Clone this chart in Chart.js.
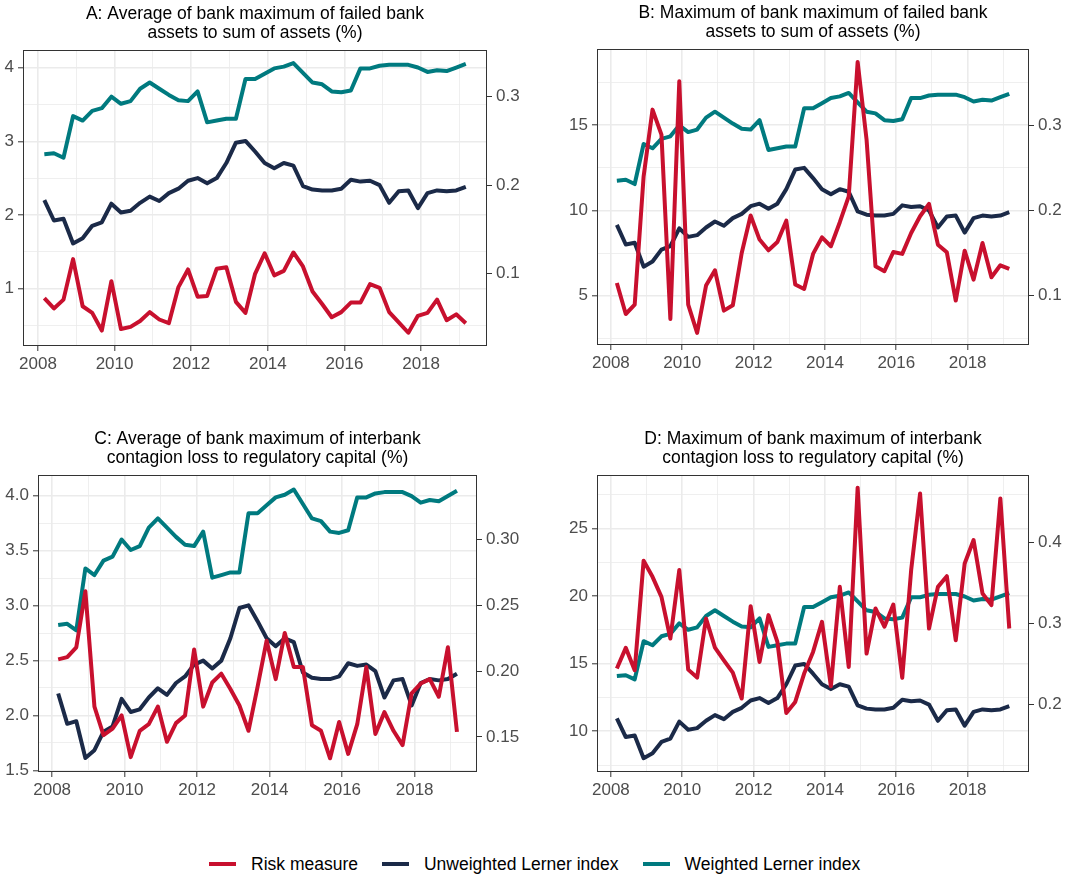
<!DOCTYPE html>
<html lang="en">
<head>
<meta charset="UTF-8">
<title>Risk measures and Lerner index</title>
<style>
  body { margin: 0; background: #fff; width: 1089px; height: 875px; position: relative; overflow: hidden; }
  canvas { position: absolute; }
  #legend {
    position: absolute; left: 209px; top: 852px; height: 24px;
    display: flex; align-items: center; white-space: nowrap;
    font-family: 'Liberation Sans', Arial, sans-serif; font-size: 17.5px; color: #000;
  }
  #legend .item { display: flex; align-items: center; margin-right: 24px; }
  #legend .item i { display: inline-block; width: 27px; height: 4px; margin-right: 15px; }
</style>
</head>
<body>
<canvas id="panelA" width="545" height="400" style="left:0px;top:0px"></canvas>
<canvas id="panelB" width="544" height="400" style="left:545px;top:0px"></canvas>
<canvas id="panelC" width="545" height="400" style="left:0px;top:425px"></canvas>
<canvas id="panelD" width="544" height="400" style="left:545px;top:425px"></canvas>

<div id="legend">
  <span class="item"><i style="background:#c8102e"></i>Risk measure</span>
  <span class="item"><i style="background:#1b2a48"></i>Unweighted Lerner index</span>
  <span class="item"><i style="background:#007a7f"></i>Weighted Lerner index</span>
</div>

<script src="https://cdn.jsdelivr.net/npm/chart.js"></script>
<script>
// quarterly observations
const quarterDates = [
  '2008-03', '2008-06', '2008-09', '2008-12',
  '2009-03', '2009-06', '2009-09', '2009-12',
  '2010-03', '2010-06', '2010-09', '2010-12',
  '2011-03', '2011-06', '2011-09', '2011-12',
  '2012-03', '2012-06', '2012-09', '2012-12',
  '2013-03', '2013-06', '2013-09', '2013-12',
  '2014-03', '2014-06', '2014-09', '2014-12',
  '2015-03', '2015-06', '2015-09', '2015-12',
  '2016-03', '2016-06', '2016-09', '2016-12',
  '2017-03', '2017-06', '2017-09', '2017-12',
  '2018-03', '2018-06', '2018-09', '2018-12',
  '2019-03'
];

// Lerner indices (right axis, same in every panel)
const weightedLerner = [
  0.235, 0.236, 0.231, 0.278, 0.273, 0.284, 0.287, 0.300, 0.292, 0.295,
  0.309, 0.316, 0.309, 0.302, 0.296, 0.295, 0.306, 0.271, 0.273, 0.275,
  0.275, 0.320, 0.320, 0.326, 0.332, 0.334, 0.338, 0.327, 0.316, 0.314,
  0.306, 0.305, 0.307, 0.332, 0.332, 0.335, 0.336, 0.336, 0.336, 0.333,
  0.328, 0.330, 0.329, 0.333, 0.337
];
const unweightedLerner = [
  0.183, 0.160, 0.162, 0.134, 0.140, 0.154, 0.158, 0.179, 0.169, 0.171,
  0.180, 0.187, 0.182, 0.191, 0.196, 0.205, 0.208, 0.202, 0.208, 0.225,
  0.248, 0.250, 0.238, 0.225, 0.219, 0.225, 0.222, 0.199, 0.195, 0.194,
  0.194, 0.196, 0.206, 0.204, 0.205, 0.200, 0.180, 0.193, 0.194, 0.174,
  0.191, 0.194, 0.193, 0.194, 0.198
];

// risk measures (left axis)
const riskA = [
  0.87, 0.73, 0.85, 1.40, 0.76, 0.67, 0.43, 1.10, 0.45, 0.48,
  0.56, 0.68, 0.58, 0.53, 1.02, 1.26, 0.89, 0.90, 1.27, 1.29,
  0.82, 0.67, 1.20, 1.48, 1.18, 1.24, 1.49, 1.30, 0.96, 0.79,
  0.61, 0.68, 0.81, 0.81, 1.06, 1.01, 0.68, 0.54, 0.40, 0.63,
  0.67, 0.85, 0.57, 0.65, 0.53
];
const riskB = [
  5.74, 3.92, 4.47, 12.0, 15.92, 14.45, 3.63, 17.58, 4.47, 2.81,
  5.59, 6.49, 4.12, 4.43, 7.50, 9.70, 8.29, 7.66, 8.15, 9.40,
  5.65, 5.39, 7.45, 8.42, 7.90, 9.31, 10.83, 18.72, 14.16, 6.72,
  6.43, 7.56, 7.45, 8.68, 9.66, 10.38, 7.99, 7.54, 4.71, 7.64,
  5.94, 8.09, 6.08, 6.78, 6.57
];
const riskC = [
  2.51, 2.53, 2.62, 3.13, 2.08, 1.82, 1.88, 2.00, 1.62, 1.86,
  1.92, 2.08, 1.76, 1.93, 2.00, 2.60, 2.08, 2.30, 2.38, 2.24,
  2.09, 1.86, 2.26, 2.68, 2.33, 2.75, 2.44, 2.44, 1.91, 1.86,
  1.61, 1.94, 1.65, 1.92, 2.44, 1.83, 2.03, 1.86, 1.73, 2.20,
  2.29, 2.33, 2.17, 2.62, 1.85
];
const riskD = [
  14.64, 16.17, 14.51, 22.61, 21.42, 19.94, 16.86, 21.92, 14.56, 13.97,
  18.34, 16.19, 15.25, 14.34, 12.42, 19.25, 15.13, 18.59, 16.61, 11.36,
  12.17, 14.27, 15.87, 18.09, 13.33, 20.68, 14.76, 28.01, 15.75, 19.08,
  17.73, 19.37, 13.95, 21.92, 27.59, 17.60, 20.68, 21.47, 16.73, 22.41,
  24.14, 20.19, 19.33, 27.22, 17.60
];

// tick values (labelled ones are major, the rest are minor grid lines)
const yearTicks = [2008, 2009, 2010, 2011, 2012, 2013, 2014, 2015, 2016, 2017, 2018, 2019];
const yearLabels = [2008, 2010, 2012, 2014, 2016, 2018];

const leftTicksA = [0.5, 1, 1.5, 2, 2.5, 3, 3.5, 4];
const leftLabelsA = [1, 2, 3, 4];
const rightTicksA = [0.1, 0.2, 0.3];

const leftTicksB = [2.5, 5, 7.5, 10, 12.5, 15, 17.5];
const leftLabelsB = [5, 10, 15];
const rightTicksB = [0.1, 0.2, 0.3];

const leftTicksC = [1.5, 1.75, 2, 2.25, 2.5, 2.75, 3, 3.25, 3.5, 3.75, 4];
const leftLabelsC = [1.5, 2, 2.5, 3, 3.5, 4];
const rightTicksC = [0.15, 0.2, 0.25, 0.3];

const leftTicksD = [7.5, 10, 12.5, 15, 17.5, 20, 22.5, 25, 27.5];
const leftLabelsD = [10, 15, 20, 25];
const rightTicksD = [0.2, 0.3, 0.4];

const RED = '#c8102e';
const NAVY = '#1b2a48';
const TEAL = '#007a7f';
const FONT = "'Liberation Sans', Arial, sans-serif";

function toYear(s) {
  const [y, m] = s.split('-').map(Number);
  return y + (m - 1) / 12;
}
function toPoints(values) {
  return values.map((v, i) => ({ x: toYear(quarterDates[i]), y: v }));
}
function hasValue(list, v) {
  return list.some(m => Math.abs(m - v) < 1e-9);
}
function setTicks(values) {
  return scale => { scale.ticks = values.map(v => ({ value: v })); };
}

// ggplot-like panel border drawn over the lines
const panelBorder = {
  id: 'panelBorder',
  afterDatasetsDraw(chart) {
    const { ctx, chartArea: a } = chart;
    ctx.save();
    ctx.strokeStyle = '#333333';
    ctx.lineWidth = 1;
    ctx.strokeRect(Math.round(a.left) + 0.5, Math.round(a.top) + 0.5,
      Math.round(a.width) - 1, Math.round(a.height) - 1);
    ctx.restore();
  }
};

function line(label, values, color, axis) {
  return {
    label: label,
    data: toPoints(values),
    yAxisID: axis,
    borderColor: color,
    backgroundColor: color,
    borderWidth: 4,
    pointRadius: 0,
    tension: 0,
    borderJoinStyle: 'round'
  };
}

function drawPanel(p) {
  const tickFont = { family: FONT, size: 17 };
  const config = {
    type: 'line',
    data: {
      datasets: [
        line('Risk measure', p.risk, RED, 'y'),
        line('Unweighted Lerner index', unweightedLerner, NAVY, 'y1'),
        line('Weighted Lerner index', weightedLerner, TEAL, 'y1')
      ]
    },
    options: {
      responsive: false,
      animation: false,
      events: [],
      layout: { padding: 0 },
      plugins: {
        legend: { display: false },
        tooltip: { enabled: false },
        title: {
          display: true,
          text: p.title,
          color: '#000',
          fullSize: false,
          font: { family: FONT, size: 17.5, weight: 'normal', lineHeight: 1.08 },
          padding: { top: p.titleTop, bottom: 7.2 }
        }
      },
      scales: {
        x: {
          type: 'linear',
          min: 2007.61,
          max: 2019.72,
          afterBuildTicks: setTicks(yearTicks),
          afterFit: s => { s.height = p.xHeight; },
          ticks: {
            autoSkip: false, maxRotation: 0, padding: 3,
            color: '#4d4d4d', font: tickFont,
            callback: v => hasValue(yearLabels, v) ? String(v) : ''
          },
          grid: {
            color: '#ebebeb',
            lineWidth: c => (c.tick && hasValue(yearLabels, c.tick.value)) ? 1.6 : 0.8,
            tickLength: 5,
            tickWidth: 1,
            tickColor: c => (c.tick && hasValue(yearLabels, c.tick.value)) ? '#333333' : 'rgba(0,0,0,0)'
          },
          border: { display: false }
        },
        y: {
          type: 'linear',
          position: 'left',
          min: p.left[0],
          max: p.left[1],
          afterBuildTicks: setTicks(p.leftTicks),
          afterFit: s => { s.width = p.leftW; },
          ticks: {
            padding: 4, color: '#4d4d4d', font: tickFont,
            callback: v => hasValue(p.leftLabels, v) ? v.toFixed(p.leftDigits) : ''
          },
          grid: {
            color: '#ebebeb',
            lineWidth: c => (c.tick && hasValue(p.leftLabels, c.tick.value)) ? 1.6 : 0.8,
            tickLength: 5,
            tickWidth: 1,
            tickColor: c => (c.tick && hasValue(p.leftLabels, c.tick.value)) ? '#333333' : 'rgba(0,0,0,0)'
          },
          border: { display: false }
        },
        y1: {
          type: 'linear',
          position: 'right',
          min: p.right[0],
          max: p.right[1],
          afterBuildTicks: setTicks(p.rightTicks),
          afterFit: s => { s.width = p.rightW; },
          ticks: {
            padding: 4, color: '#4d4d4d', font: tickFont,
            callback: v => v.toFixed(p.rightDigits)
          },
          grid: {
            drawOnChartArea: false,
            tickLength: 5,
            tickWidth: 1,
            tickColor: '#333333'
          },
          border: { display: false }
        }
      }
    },
    plugins: [panelBorder]
  };
  return new Chart(document.querySelector(p.canvas), config);
}

drawPanel({
  canvas: '#panelA',
  title: ['A: Average of bank maximum of failed bank', 'assets to sum of assets (%)'],
  risk: riskA,
  left: [0.22, 4.24], leftTicks: leftTicksA, leftLabels: leftLabelsA, leftDigits: 0,
  right: [0.0181, 0.3528], rightTicks: rightTicksA, rightDigits: 1,
  titleTop: 5, leftW: 23, rightW: 58, xHeight: 54
});
drawPanel({
  canvas: '#panelB',
  title: ['B: Maximum of bank maximum of failed bank', 'assets to sum of assets (%)'],
  risk: riskB,
  left: [2.10, 19.48], leftTicks: leftTicksB, leftLabels: leftLabelsB, leftDigits: 0,
  right: [0.042, 0.3896], rightTicks: rightTicksB, rightDigits: 1,
  titleTop: 4, leftW: 52, rightW: 60, xHeight: 55
});
drawPanel({
  canvas: '#panelC',
  title: ['C: Average of bank maximum of interbank', 'contagion loss to regulatory capital (%)'],
  risk: riskC,
  left: [1.485, 4.188], leftTicks: leftTicksC, leftLabels: leftLabelsC, leftDigits: 1,
  right: [0.1234, 0.349], rightTicks: rightTicksC, rightDigits: 2,
  titleTop: 5, leftW: 38, rightW: 68, xHeight: 53
});
drawPanel({
  canvas: '#panelD',
  title: ['D: Maximum of bank maximum of interbank', 'contagion loss to regulatory capital (%)'],
  risk: riskD,
  left: [6.99, 28.95], leftTicks: leftTicksD, leftLabels: leftLabelsD, leftDigits: 0,
  right: [0.117, 0.4825], rightTicks: rightTicksD, rightDigits: 1,
  titleTop: 5, leftW: 52, rightW: 60, xHeight: 53
});
</script>
</body>
</html>
